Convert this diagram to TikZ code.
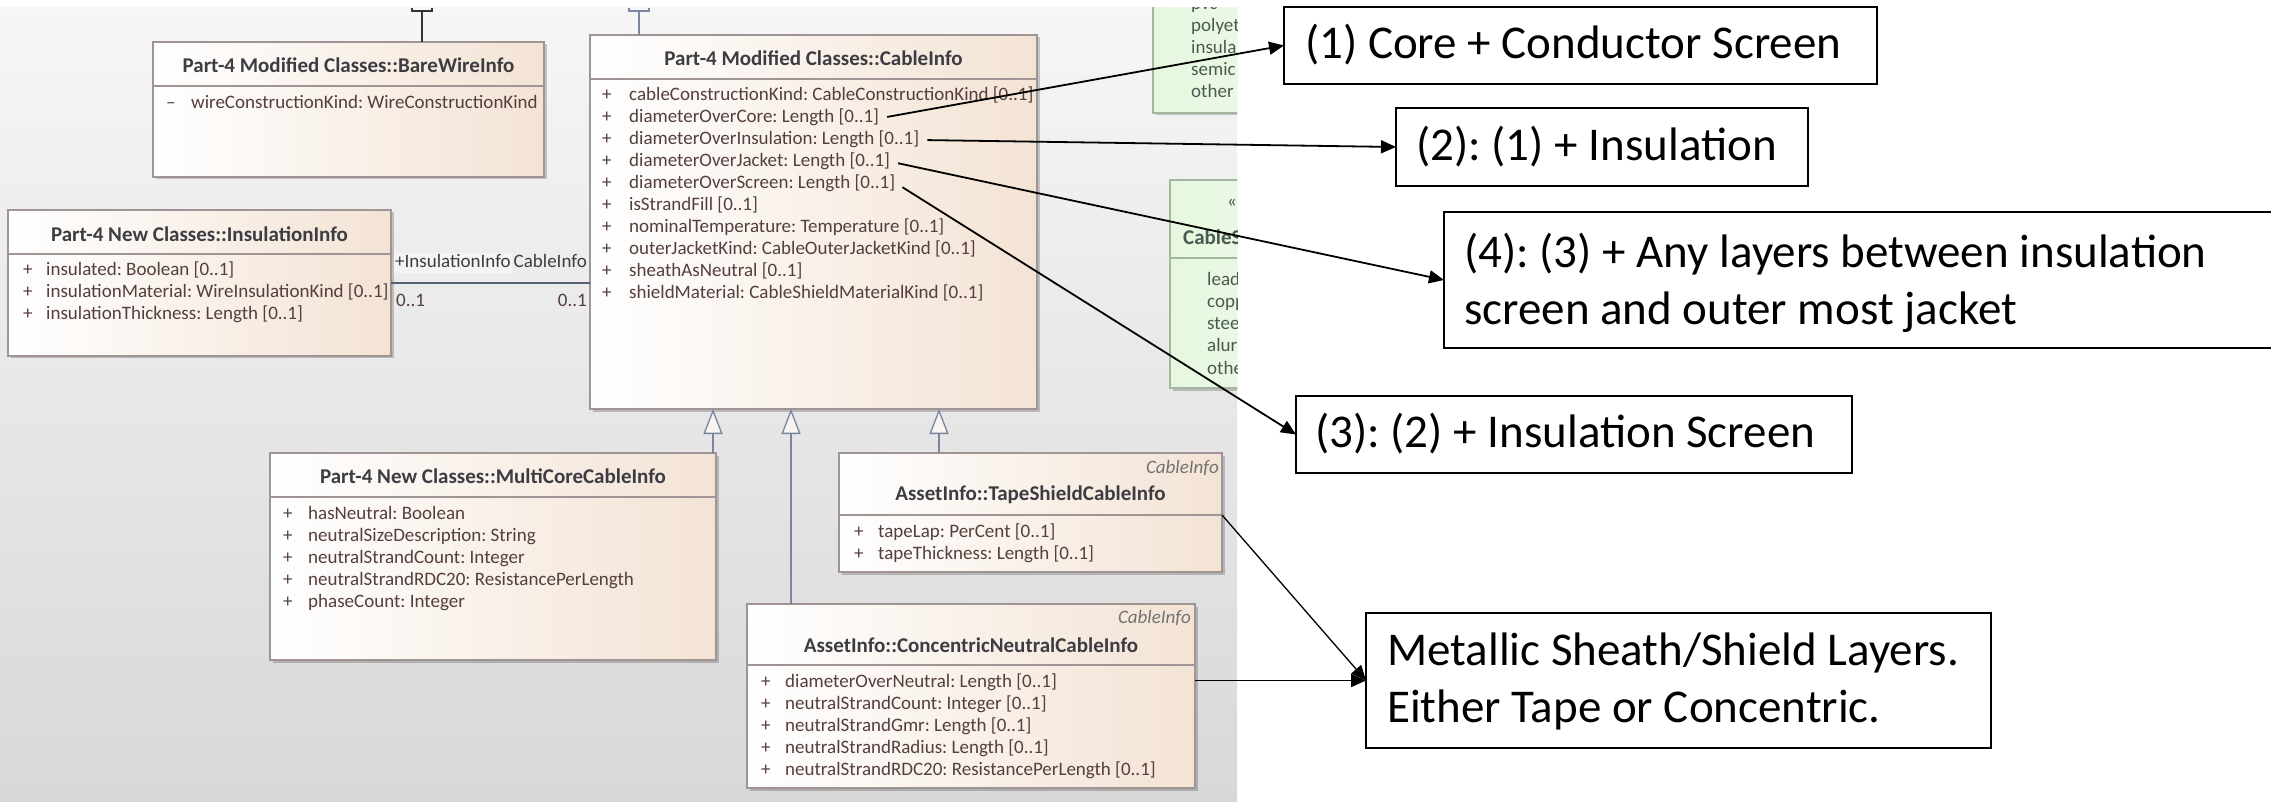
\documentclass[tikz,border=0pt]{standalone}
\usepackage{fontspec}
\setmainfont{Carlito}
\usetikzlibrary{arrows.meta,calc,shadows}
\definecolor{umlbd}{RGB}{160,148,148}
\definecolor{umlpeach}{RGB}{243,227,212}
\definecolor{umlpale}{RGB}{250,244,239}
\definecolor{attrc}{RGB}{84,62,62}
\definecolor{ttlc}{RGB}{60,60,66}
\definecolor{genc}{RGB}{120,134,160}
\definecolor{assc}{RGB}{85,98,118}
\definecolor{grfill}{RGB}{231,247,223}
\definecolor{grbd}{RGB}{165,182,158}
\definecolor{grtxt}{RGB}{75,90,80}
\definecolor{bgtop}{RGB}{246,246,246}
\definecolor{bgbot}{RGB}{216,216,216}
\newcommand\umlf{\fontsize{19}{22}\selectfont}
\newcommand\ttlf{\fontsize{21}{24}\selectfont\bfseries}
\newcommand\annf{\fontsize{47}{57}\selectfont}
\frenchspacing
\begin{document}
\begin{tikzpicture}[x=1pt,y=-1pt,
  umlbox/.style={draw=umlbd,line width=1.2pt,left color=white,right color=umlpeach,
    inner sep=0pt,outer sep=0pt,anchor=north west,
    drop shadow={shadow xshift=2.5pt,shadow yshift=-2.5pt,fill=black,opacity=0.2}},
  grbox/.style={draw=grbd,line width=1.2pt,left color=grfill,right color=grfill!70!white,
    inner sep=0pt,outer sep=0pt,anchor=north west,
    drop shadow={shadow xshift=2.5pt,shadow yshift=-2.5pt,fill=black,opacity=0.2}},
  sepline/.style={draw=umlbd,line width=1.2pt},
  ttl/.style={text=ttlc,font=\ttlf,inner sep=0pt},
  att/.style={text=attrc,font=\umlf,inner sep=2pt,anchor=west,text height=14pt,text depth=4pt},
  grt/.style={text=grtxt,font=\umlf,inner sep=0pt,anchor=west,text height=14pt,text depth=4pt},
  stereo/.style={text=black!55,font=\umlf\itshape,inner sep=0pt,anchor=east},
  gen/.style={draw=genc,line width=1.3pt,-{Triangle[length=25pt,width=19pt,fill=umlpale]}},
  assoc/.style={draw=assc,line width=2pt},
  annbox/.style={draw=black,line width=1.8pt,fill=white,inner sep=0pt,outer sep=0pt,anchor=north west},
  anntxt/.style={font=\annf,inner sep=0pt,anchor=west,align=left,text=black},
  arr/.style={draw=black,line width=1.8pt,-{Triangle[length=15pt,width=13pt]},shorten <=6pt}
]
\useasboundingbox (0,0) rectangle (2271,802);
\fill[white] (0,0) rectangle (2271,802);
\begin{scope}
\clip (0,8) rectangle (1237,802);
\shade[top color=bgtop,bottom color=bgbot] (0,8) rectangle (1237,802);

% generalization stubs at top
\coordinate (topA) at (422,0);
\coordinate (topB) at (639,0);
% green enumeration boxes (clipped)
\node[grbox,minimum width=160pt,minimum height=133pt] (g1) at (1153,-20) {};
\node[grt] at (1191,5) {pvc};
\node[grt] at (1191,27) {polyet};
\node[grt] at (1191,49) {insula};
\node[grt] at (1191,71) {semic};
\node[grt] at (1191,93) {other};
\node[grbox,minimum width=160pt,minimum height=208pt] (g2) at (1170,180) {};
\draw[draw=grbd,line width=1.2pt] (1170,258) -- (1330,258);
\node[grt] at (1227,203) {«};
\node[grt,font=\ttlf] at (1183,240) {CableS};
\node[grt] at (1207,281) {lead};
\node[grt] at (1207,303) {copp};
\node[grt] at (1207,325) {stee};
\node[grt] at (1207,347) {alur};
\node[grt] at (1207,369) {othe};

% BareWireInfo
\node[umlbox,minimum width=391pt,minimum height=135pt] (bare) at (153,42) {};
\draw[sepline] (153,86) -- (544,86);
\node[ttl] at (348.5,65) {Part-4 Modified Classes::BareWireInfo};
\node[att] at (164,104) {–};
\node[att] at (189,104) {wireConstructionKind: WireConstructionKind};
\draw[draw=black!80,line width=1.3pt] (bare.north -| topA) -- (422,11);
\draw[draw=black!80,line width=1.3pt] (412,8) -- (412,11) -- (432,11) -- (432,8);

% CableInfo
\node[umlbox,minimum width=447pt,minimum height=374pt] (cable) at (590,35) {};
\draw[sepline] (590,79) -- (1037,79);
\node[ttl] at (813.5,58) {Part-4 Modified Classes::CableInfo};
\draw[draw=genc,line width=1.3pt] (cable.north -| topB) -- (639,11);
\draw[draw=genc,line width=1.3pt] (629,8) -- (629,11) -- (649,11) -- (649,8);
\foreach \y in {96,118,...,294} {\node[att] at (600,\y) {+};}
\node[att] (a1) at (627,96) {cableConstructionKind: CableConstructionKind [0..1]};
\node[att] (aCore) at (627,118) {diameterOverCore: Length [0..1]};
\node[att] (aIns) at (627,140) {diameterOverInsulation: Length [0..1]};
\node[att] (aJac) at (627,162) {diameterOverJacket: Length [0..1]};
\node[att] (aScr) at (627,184) {diameterOverScreen: Length [0..1]};
\node[att] at (627,206) {isStrandFill [0..1]};
\node[att] at (627,228) {nominalTemperature: Temperature [0..1]};
\node[att] at (627,250) {outerJacketKind: CableOuterJacketKind [0..1]};
\node[att] at (627,272) {sheathAsNeutral [0..1]};
\node[att] at (627,294) {shieldMaterial: CableShieldMaterialKind [0..1]};

% InsulationInfo
\node[umlbox,minimum width=383pt,minimum height=146pt] (ins) at (8,210) {};
\draw[sepline] (8,254) -- (391,254);
\node[ttl] at (199.5,234) {Part-4 New Classes::InsulationInfo};
\foreach \y in {271,293,315} {\node[att] at (21,\y) {+};}
\node[att] at (44,271) {insulated: Boolean [0..1]};
\node[att] at (44,293) {insulationMaterial: WireInsulationKind [0..1]};
\node[att] at (44,315) {insulationThickness: Length [0..1]};
% association
\coordinate (asy) at (0,283);
\draw[assoc] (ins.east |- asy) -- (cable.west |- asy);
\node[att,anchor=east,text=ttlc] at (589,263) {CableInfo};
\node[att,text=ttlc,fill=bgtop!92!bgbot,inner sep=1pt] at (394,263) {+InsulationInfo};
\node[att] at (394,302) {0..1};
\node[att,anchor=east] at (589,302) {0..1};

% MultiCoreCableInfo
\node[umlbox,minimum width=446pt,minimum height=207pt] (mc) at (270,453) {};
\draw[sepline] (270,497) -- (716,497);
\node[ttl] at (493,476) {Part-4 New Classes::MultiCoreCableInfo};
\foreach \y in {514,536,558,580,602} {\node[att] at (281,\y) {+};}
\node[att] at (306,514) {hasNeutral: Boolean};
\node[att] at (306,536) {neutralSizeDescription: String};
\node[att] at (306,558) {neutralStrandCount: Integer};
\node[att] at (306,580) {neutralStrandRDC20: ResistancePerLength};
\node[att] at (306,602) {phaseCount: Integer};

% TapeShieldCableInfo
\node[umlbox,minimum width=383pt,minimum height=119pt] (ts) at (839,453) {};
\draw[sepline] (839,515) -- (1222,515);
\coordinate (tsR) at (1222,515);
\node[stereo] at (1219,468) {CableInfo};
\node[ttl] at (1030.5,495) {AssetInfo::TapeShieldCableInfo};
\foreach \y in {532,554} {\node[att] at (852,\y) {+};}
\node[att] at (876,532) {tapeLap: PerCent [0..1]};
\node[att] at (876,554) {tapeThickness: Length [0..1]};

% ConcentricNeutralCableInfo
\node[umlbox,minimum width=448pt,minimum height=184pt] (cn) at (747,604) {};
\draw[sepline] (747,665) -- (1195,665);
\node[stereo] at (1191,618) {CableInfo};
\node[ttl] at (971,645) {AssetInfo::ConcentricNeutralCableInfo};
\foreach \y in {682,704,726,748,770} {\node[att] at (759,\y) {+};}
\node[att] at (783,682) {diameterOverNeutral: Length [0..1]};
\node[att] at (783,704) {neutralStrandCount: Integer [0..1]};
\node[att] at (783,726) {neutralStrandGmr: Length [0..1]};
\node[att] at (783,748) {neutralStrandRadius: Length [0..1]};
\node[att] at (783,770) {neutralStrandRDC20: ResistancePerLength [0..1]};

% generalizations
\coordinate (gx1) at (713,0);
\coordinate (gx2) at (791,0);
\coordinate (gx3) at (939,0);
\draw[gen] (gx1 |- mc.north) -- (gx1 |- cable.south);
\draw[gen] (gx2 |- cn.north) -- (gx2 |- cable.south);
\draw[gen] (gx3 |- ts.north) -- (gx3 |- cable.south);
\end{scope}

% annotation boxes
\node[annbox,minimum width=593pt,minimum height=77pt] (b1) at (1284,7) {};
\node[anntxt] at (1305,45) {(1) Core + Conductor Screen};
\node[annbox,minimum width=412pt,minimum height=78pt] (b2) at (1396,108) {};
\node[anntxt] at (1416,147) {(2): (1) + Insulation};
\node[annbox,minimum width=846pt,minimum height=136pt] (b4) at (1444,212) {};
\node[anntxt] at (1464,283) {(4): (3) + Any layers between insulation\\screen and outer most jacket};
\node[annbox,minimum width=556pt,minimum height=77pt] (b3) at (1296,396) {};
\node[anntxt] at (1315,434) {(3): (2) + Insulation Screen};
\node[annbox,minimum width=625pt,minimum height=135pt] (bm) at (1366,613) {};
\node[anntxt] at (1387,681) {Metallic Sheath/Shield Layers.\\Either Tape or Concentric.};

% arrows
\draw[arr] (aCore.east) -- (b1.west);
\draw[arr] (aIns.east) -- (b2.west);
\draw[arr] (aJac.east) -- (b4.west);
\draw[arr] (aScr.east) -- (b3.west);
\draw[arr,line width=1.3pt,shorten <=0pt] (tsR) -- (bm.west);
\draw[arr,shorten <=0pt] (bm.west -| cn.east) -- (bm.west);
\end{tikzpicture}
\end{document}
